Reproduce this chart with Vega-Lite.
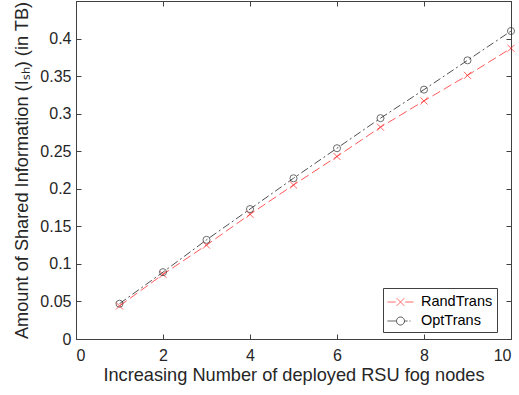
{
  "$schema": "https://vega.github.io/schema/vega-lite/v6.json",
  "autosize": "none",
  "width": 435,
  "height": 338,
  "padding": {"left": 76, "top": 1, "right": 8, "bottom": 56},
  "background": "white",
  "config": {
    "font": "Liberation Sans",
    "view": {"stroke": "#404040", "strokeWidth": 1},
    "axis": {
      "grid": false,
      "domainColor": "#404040",
      "tickColor": "#404040",
      "tickSize": -5,
      "labelColor": "#262626",
      "titleColor": "#262626",
      "labelFontSize": 16,
      "titleFontSize": 18.2,
      "titleFontWeight": "normal",
      "labelFont": "Liberation Sans",
      "titleFont": "Liberation Sans"
    }
  },
  "data": {
    "values": [
      {"x": 1, "v": 0.044, "s": "RandTrans"},
      {"x": 2, "v": 0.086, "s": "RandTrans"},
      {"x": 3, "v": 0.125, "s": "RandTrans"},
      {"x": 4, "v": 0.166, "s": "RandTrans"},
      {"x": 5, "v": 0.205, "s": "RandTrans"},
      {"x": 6, "v": 0.243, "s": "RandTrans"},
      {"x": 7, "v": 0.282, "s": "RandTrans"},
      {"x": 8, "v": 0.317, "s": "RandTrans"},
      {"x": 9, "v": 0.351, "s": "RandTrans"},
      {"x": 10, "v": 0.387, "s": "RandTrans"},
      {"x": 1, "v": 0.047, "s": "OptTrans"},
      {"x": 2, "v": 0.089, "s": "OptTrans"},
      {"x": 3, "v": 0.132, "s": "OptTrans"},
      {"x": 4, "v": 0.173, "s": "OptTrans"},
      {"x": 5, "v": 0.214, "s": "OptTrans"},
      {"x": 6, "v": 0.254, "s": "OptTrans"},
      {"x": 7, "v": 0.294, "s": "OptTrans"},
      {"x": 8, "v": 0.332, "s": "OptTrans"},
      {"x": 9, "v": 0.371, "s": "OptTrans"},
      {"x": 10, "v": 0.41, "s": "OptTrans"}
    ]
  },
  "resolve": {"axis": {"x": "independent", "y": "independent"}},
  "layer": [
    {
      "mark": {"type": "line", "strokeWidth": 1},
      "encoding": {
        "x": {
          "field": "x", "type": "quantitative",
          "scale": {"domain": [0, 10], "nice": false},
          "axis": {"orient": "bottom", "values": [0, 2, 4, 6, 8, 10], "title": "Increasing Number of deployed RSU fog nodes", "labelPadding": 13, "titlePadding": 3}
        },
        "y": {
          "field": "v", "type": "quantitative",
          "scale": {"domain": [0, 0.45], "nice": false},
          "axis": {"orient": "left", "values": [0, 0.05, 0.1, 0.15, 0.2, 0.25, 0.3, 0.35, 0.4], "format": ".2~f", "title": "Amount of Shared Information (I\u209b\u2095) (in TB)", "labelPadding": 10, "titlePadding": 8}
        },
        "color": {
          "field": "s", "type": "nominal",
          "scale": {"domain": ["RandTrans", "OptTrans"], "range": ["#ff5a5a", "#505050"]},
          "legend": {
            "orient": "none",
            "legendX": 307,
            "legendY": 287,
            "title": null,
            "padding": 4,
            "rowPadding": 2,
            "fillColor": "white",
            "strokeColor": "#404040",
            "labelFontSize": 14.5,
            "labelColor": "#000000",
            "labelFont": "Liberation Sans",
            "labelExpr": "datum.label + '    '",
            "symbolSize": 361,
            "symbolOffset": 3.5,
            "symbolStrokeWidth": 1,
            "symbolFillColor": "transparent",
            "labelOffset": 10.5,
            "encode": {
              "symbols": {
                "update": {
                  "shape": {"signal": "datum.value === 'RandTrans' ? 'M-1.37,0H-0.5M0.5,0H1.37M-0.4,-0.4L0.4,0.4M-0.4,0.4L0.4,-0.4' : 'M-1.37,0H-0.42M0.42,0H0.75M0.95,0H1.05M0.42,0A0.42,0.42 0 1,1 -0.42,0A0.42,0.42 0 1,1 0.42,0'"},
                  "fill": {"value": "transparent"},
                  "strokeDash": {"value": [1, 0]}
                }
              }
            }
          }
        },
        "strokeDash": {
          "condition": {"test": "datum.s === 'RandTrans'", "value": [9, 4]},
          "value": [8, 3, 2, 3]
        }
      }
    },
    {
      "mark": {"type": "point", "filled": false, "size": 50, "strokeWidth": 1},
      "encoding": {
        "x": {"field": "x", "type": "quantitative", "axis": null},
        "y": {"field": "v", "type": "quantitative", "axis": null},
        "shape": {
          "condition": {"test": "datum.s === 'RandTrans'", "value": "M-1,-1L1,1M-1,1L1,-1"},
          "value": "circle"
        },
        "stroke": {
          "condition": {"test": "datum.s === 'RandTrans'", "value": "#ff2020"},
          "value": "#303030"
        }
      }
    },
    {
      "mark": {"type": "point", "opacity": 0},
      "encoding": {
        "x": {"field": "x", "type": "quantitative", "axis": {"orient": "top", "values": [0, 2, 4, 6, 8, 10], "labels": false, "title": null}},
        "y": {"field": "v", "type": "quantitative", "axis": {"orient": "right", "values": [0, 0.05, 0.1, 0.15, 0.2, 0.25, 0.3, 0.35, 0.4], "labels": false, "title": null}}
      }
    }
  ]
}
